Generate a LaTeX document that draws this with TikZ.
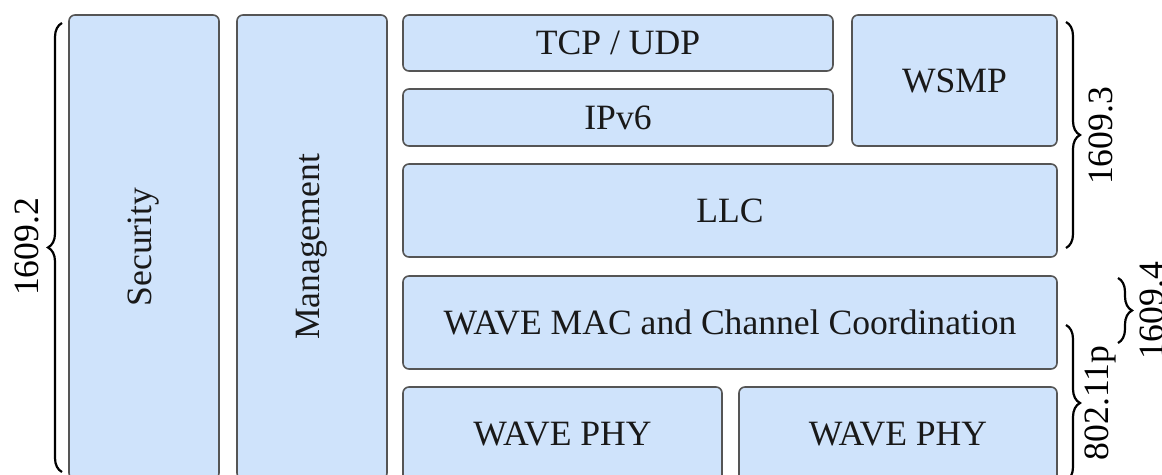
\documentclass[tikz,border=0pt]{standalone}
\usepackage{fontspec}
\setmainfont{Liberation Serif}
\usetikzlibrary{decorations.pathreplacing}
\definecolor{boxfill}{RGB}{207,227,251}
\definecolor{boxline}{RGB}{85,85,85}
\tikzset{
  layer/.style={draw=boxline, fill=boxfill, line width=0.8pt, rounded corners=3pt,
    inner sep=0pt, text=black!90, font=\fontsize{17.8}{21}\selectfont},
  bracepath/.style={decorate, decoration={brace, amplitude=7pt}, line width=1.1pt},
  bracelabel/.style={font=\fontsize{17.8}{21}\selectfont, rotate=90, inner sep=0pt}
}
\begin{document}
\begin{tikzpicture}[x=0.5pt,y=-0.5pt]
\useasboundingbox (0,0) rectangle (1162,475);
% vertical columns
\node[layer, rotate=90, minimum width=232pt, minimum height=75pt] (sec) at (144,247) {Security};
\node[layer, rotate=90, minimum width=232pt, minimum height=75pt] (mgmt) at (312,247) {Management};
% stack
\node[layer, minimum width=215pt, minimum height=28pt] (tcp) at (618,43) {TCP / UDP};
\node[layer, minimum width=215pt, minimum height=28.5pt] (ipv6) at (618,117.5) {IPv6};
\node[layer, minimum width=102.5pt, minimum height=65.5pt] (wsmp) at (954.5,80.5) {WSMP};
\node[layer, minimum width=327pt, minimum height=46.5pt] (llc) at (730,210.5) {LLC};
\node[layer, minimum width=327pt, minimum height=46.5pt] (mac) at (730,322.5) {WAVE MAC and Channel Coordination};
\node[layer, minimum width=159.5pt, minimum height=47pt] (phya) at (562.5,434) {WAVE PHY};
\node[layer, minimum width=159pt, minimum height=47pt] (phyb) at (898,434) {WAVE PHY};
% brace end points
\coordinate (b2top) at (62,23);
\coordinate (b2bot) at (62,472);
\coordinate (b3top) at (1066,22);
\coordinate (b3bot) at (1066,248);
\coordinate (b11top) at (1066,325);
\coordinate (b11bot) at (1066,481);
\coordinate (b4top) at (1118,278);
\coordinate (b4bot) at (1118,343);
% braces
\draw[bracepath] (b2bot) -- (b2top);
\draw[bracepath] (b3top) -- (b3bot);
\draw[bracepath] (b11top) -- (b11bot);
\draw[bracepath] (b4top) -- (b4bot);
% labels
\node[bracelabel] (l2) at (27,247) {1609.2};
\node[bracelabel] (l3) at (1101,136) {1609.3};
\node[bracelabel] (l11) at (1100,403) {802.11p};
\node[bracelabel] (l4) at (1152,311) {1609.4};
\end{tikzpicture}
\end{document}
